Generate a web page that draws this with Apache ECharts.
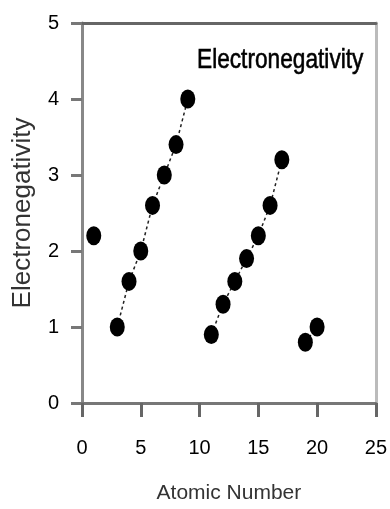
<!DOCTYPE html>
<html>
<head>
<meta charset="utf-8">
<script src="https://cdn.jsdelivr.net/npm/echarts@6/dist/echarts.min.js"></script>
<style>html,body{margin:0;padding:0;background:#fff}#c{width:390px;height:509px}</style>
</head>
<body>
<div id="c"></div>
<script>
var period1X = [1];
var period1Y = [2.2];
var period2X = [3, 4, 5, 6, 7, 8, 9];
var period2Y = [1.0, 1.6, 2.0, 2.6, 3.0, 3.4, 4.0];
var period3X = [11, 12, 13, 14, 15, 16, 17];
var period3Y = [0.9, 1.3, 1.6, 1.9, 2.2, 2.6, 3.2];
var period4X = [19, 20];
var period4Y = [0.8, 1.0];
var xTicks = [0, 5, 10, 15, 20, 25];
var yTicks = [0, 1, 2, 3, 4, 5];
var titleText = 'Electronegativity';
var xName = 'Atomic Number';
var yName = 'Electronegativity';

function pairs(xs, ys) { return xs.map(function (x, i) { return [x, ys[i]]; }); }

var font = '"Liberation Sans", Arial, sans-serif';
var chart = echarts.init(document.getElementById('c'), null, { renderer: 'canvas' });
var markerStyle = { color: '#000' };
var lineStyle = { color: '#222', width: 1.5, type: [3, 3] };
function lineSeries(xs, ys, showLine) {
  return {
    type: 'line',
    data: pairs(xs, ys),
    symbol: 'circle',
    symbolSize: [15, 19],
    itemStyle: markerStyle,
    lineStyle: showLine ? lineStyle : { opacity: 0 },
    silent: true,
    animation: false,
    z: 5
  };
}
chart.setOption({
  animation: false,
  graphic: [{
    type: 'text',
    x: 197, y: 46,
    scaleX: 0.81,
    style: { text: titleText, font: '28px ' + font, fill: '#000', stroke: '#000', lineWidth: 0.6, textVerticalAlign: 'top' },
    z: 10
  }],
  grid: { left: 82, right: 8, top: 23, bottom: 101, containLabel: false },
  xAxis: [{
    type: 'value', min: 0, max: 25, interval: 5,
    name: xName, nameLocation: 'middle', nameGap: 80,
    nameTextStyle: { fontFamily: font, fontSize: 21, color: '#333' },
    axisLine: { show: true, onZero: false, lineStyle: { color: '#777', width: 3 } },
    axisTick: { show: true, length: 14, lineStyle: { color: '#666', width: 3 } },
    axisLabel: { margin: 35, fontFamily: font, fontSize: 20, color: '#000',
      formatter: function (v) { return xTicks.indexOf(v) >= 0 ? String(v) : ''; } },
    splitLine: { show: false }
  }, {
    type: 'value', min: 0, max: 25, interval: 5, position: 'top',
    axisLine: { show: true, onZero: false, lineStyle: { color: '#666', width: 3 } },
    axisTick: { show: false }, axisLabel: { show: false }, splitLine: { show: false }
  }],
  yAxis: [{
    type: 'value', min: 0, max: 5, interval: 1,
    name: yName, nameLocation: 'middle', nameGap: 46,
    nameTextStyle: { fontFamily: font, fontSize: 26, color: '#333' },
    axisLine: { show: true, onZero: false, lineStyle: { color: '#888', width: 3 } },
    axisTick: { show: true, length: 11, lineStyle: { color: '#777', width: 3 } },
    axisLabel: { margin: 23, fontFamily: font, fontSize: 20, color: '#000',
      formatter: function (v) { return yTicks.indexOf(v) >= 0 ? String(v) : ''; } },
    splitLine: { show: false }
  }, {
    type: 'value', min: 0, max: 5, interval: 1, position: 'right',
    axisLine: { show: true, onZero: false, lineStyle: { color: '#bbb', width: 3 } },
    axisTick: { show: false }, axisLabel: { show: false }, splitLine: { show: false }
  }],
  series: [
    lineSeries(period1X, period1Y, false),
    lineSeries(period2X, period2Y, true),
    lineSeries(period3X, period3Y, true),
    lineSeries(period4X, period4Y, true)
  ]
});
</script>
</body>
</html>
